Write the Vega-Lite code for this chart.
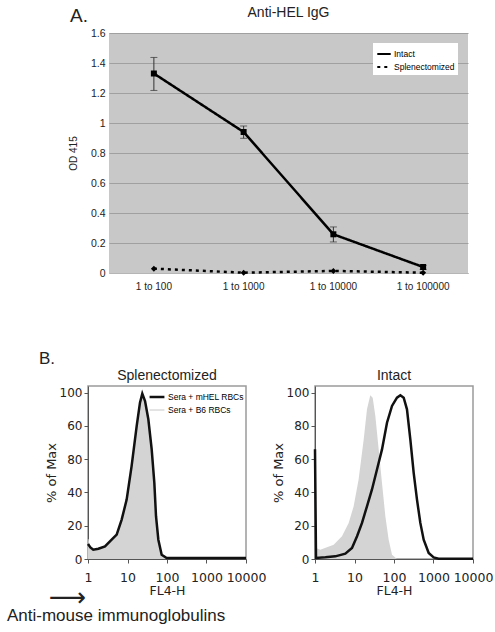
{
  "$schema": "https://vega.github.io/schema/vega-lite/v6.json",
  "background": "white",
  "padding": {"left": 6, "top": 6, "right": 0, "bottom": 0},
  "config": {
    "view": {"stroke": null},
    "axis": {"labelColor": "#222", "titleColor": "#222", "titleFontWeight": "normal", "labelOverlap": false},
    "title": {"fontWeight": "normal", "color": "#222"}
  },
  "resolve": {
    "scale": {"strokeDash": "independent", "color": "independent", "strokeWidth": "independent"},
    "legend": {"strokeDash": "independent", "color": "independent", "strokeWidth": "independent"}
  },
  "datasets": {
    "elisa": [
      {"dil": "1 to 100", "group": "Intact", "od": 1.33, "lo": 1.217, "hi": 1.437},
      {"dil": "1 to 1000", "group": "Intact", "od": 0.94, "lo": 0.898, "hi": 0.98},
      {"dil": "1 to 10000", "group": "Intact", "od": 0.258, "lo": 0.207, "hi": 0.307},
      {"dil": "1 to 100000", "group": "Intact", "od": 0.04, "lo": 0.024, "hi": 0.051},
      {"dil": "1 to 100", "group": "Splenectomized", "od": 0.029},
      {"dil": "1 to 1000", "group": "Splenectomized", "od": 0.002},
      {"dil": "1 to 10000", "group": "Splenectomized", "od": 0.014},
      {"dil": "1 to 100000", "group": "Splenectomized", "od": 0.002}
    ],
    "hist": [
      {"panel": "Splenectomized", "sample": "Sera +  B6 RBCs", "fl": 1, "pct": 12},
      {"panel": "Splenectomized", "sample": "Sera +  B6 RBCs", "fl": 1.1, "pct": 6},
      {"panel": "Splenectomized", "sample": "Sera +  B6 RBCs", "fl": 1.36, "pct": 5},
      {"panel": "Splenectomized", "sample": "Sera +  B6 RBCs", "fl": 1.83, "pct": 5.6},
      {"panel": "Splenectomized", "sample": "Sera +  B6 RBCs", "fl": 2.69, "pct": 7},
      {"panel": "Splenectomized", "sample": "Sera +  B6 RBCs", "fl": 3.97, "pct": 10.5},
      {"panel": "Splenectomized", "sample": "Sera +  B6 RBCs", "fl": 5.32, "pct": 14},
      {"panel": "Splenectomized", "sample": "Sera +  B6 RBCs", "fl": 7.12, "pct": 22.5},
      {"panel": "Splenectomized", "sample": "Sera +  B6 RBCs", "fl": 9.52, "pct": 34.5},
      {"panel": "Splenectomized", "sample": "Sera +  B6 RBCs", "fl": 12.7, "pct": 54},
      {"panel": "Splenectomized", "sample": "Sera +  B6 RBCs", "fl": 17.1, "pct": 78.5},
      {"panel": "Splenectomized", "sample": "Sera +  B6 RBCs", "fl": 20.7, "pct": 93},
      {"panel": "Splenectomized", "sample": "Sera +  B6 RBCs", "fl": 23.7, "pct": 98.5},
      {"panel": "Splenectomized", "sample": "Sera +  B6 RBCs", "fl": 27.8, "pct": 94},
      {"panel": "Splenectomized", "sample": "Sera +  B6 RBCs", "fl": 33.7, "pct": 82},
      {"panel": "Splenectomized", "sample": "Sera +  B6 RBCs", "fl": 40.9, "pct": 63},
      {"panel": "Splenectomized", "sample": "Sera +  B6 RBCs", "fl": 47.8, "pct": 43},
      {"panel": "Splenectomized", "sample": "Sera +  B6 RBCs", "fl": 52.7, "pct": 24},
      {"panel": "Splenectomized", "sample": "Sera +  B6 RBCs", "fl": 60.4, "pct": 10},
      {"panel": "Splenectomized", "sample": "Sera +  B6 RBCs", "fl": 73.3, "pct": 2},
      {"panel": "Splenectomized", "sample": "Sera +  B6 RBCs", "fl": 98, "pct": 0.3},
      {"panel": "Splenectomized", "sample": "Sera +  B6 RBCs", "fl": 10000, "pct": 0.3},
      {"panel": "Splenectomized", "sample": "Sera + mHEL RBCs", "fl": 1, "pct": 9},
      {"panel": "Splenectomized", "sample": "Sera + mHEL RBCs", "fl": 1.15, "pct": 7},
      {"panel": "Splenectomized", "sample": "Sera + mHEL RBCs", "fl": 1.36, "pct": 5.6},
      {"panel": "Splenectomized", "sample": "Sera + mHEL RBCs", "fl": 1.83, "pct": 6.2},
      {"panel": "Splenectomized", "sample": "Sera + mHEL RBCs", "fl": 2.69, "pct": 7.6},
      {"panel": "Splenectomized", "sample": "Sera + mHEL RBCs", "fl": 3.97, "pct": 11.6},
      {"panel": "Splenectomized", "sample": "Sera + mHEL RBCs", "fl": 5.32, "pct": 14.7},
      {"panel": "Splenectomized", "sample": "Sera + mHEL RBCs", "fl": 7.12, "pct": 23.7},
      {"panel": "Splenectomized", "sample": "Sera + mHEL RBCs", "fl": 9.52, "pct": 35.7},
      {"panel": "Splenectomized", "sample": "Sera + mHEL RBCs", "fl": 12.7, "pct": 55.8},
      {"panel": "Splenectomized", "sample": "Sera + mHEL RBCs", "fl": 17.1, "pct": 80},
      {"panel": "Splenectomized", "sample": "Sera + mHEL RBCs", "fl": 20.7, "pct": 94},
      {"panel": "Splenectomized", "sample": "Sera + mHEL RBCs", "fl": 23.7, "pct": 99.4},
      {"panel": "Splenectomized", "sample": "Sera + mHEL RBCs", "fl": 27.8, "pct": 95},
      {"panel": "Splenectomized", "sample": "Sera + mHEL RBCs", "fl": 33.7, "pct": 84},
      {"panel": "Splenectomized", "sample": "Sera + mHEL RBCs", "fl": 40.9, "pct": 66},
      {"panel": "Splenectomized", "sample": "Sera + mHEL RBCs", "fl": 47.8, "pct": 45.8},
      {"panel": "Splenectomized", "sample": "Sera + mHEL RBCs", "fl": 52.7, "pct": 25.7},
      {"panel": "Splenectomized", "sample": "Sera + mHEL RBCs", "fl": 60.4, "pct": 11.6},
      {"panel": "Splenectomized", "sample": "Sera + mHEL RBCs", "fl": 73.3, "pct": 2.6},
      {"panel": "Splenectomized", "sample": "Sera + mHEL RBCs", "fl": 98, "pct": 0.6},
      {"panel": "Splenectomized", "sample": "Sera + mHEL RBCs", "fl": 286, "pct": 0.6},
      {"panel": "Splenectomized", "sample": "Sera + mHEL RBCs", "fl": 10000, "pct": 0.6},
      {"panel": "Intact", "sample": "Sera +  B6 RBCs", "fl": 1, "pct": 9.6},
      {"panel": "Intact", "sample": "Sera +  B6 RBCs", "fl": 1.1, "pct": 6.5},
      {"panel": "Intact", "sample": "Sera +  B6 RBCs", "fl": 1.36, "pct": 5.6},
      {"panel": "Intact", "sample": "Sera +  B6 RBCs", "fl": 2.01, "pct": 7},
      {"panel": "Intact", "sample": "Sera +  B6 RBCs", "fl": 2.97, "pct": 8.6},
      {"panel": "Intact", "sample": "Sera +  B6 RBCs", "fl": 4.82, "pct": 13.7},
      {"panel": "Intact", "sample": "Sera +  B6 RBCs", "fl": 7.12, "pct": 21.7},
      {"panel": "Intact", "sample": "Sera +  B6 RBCs", "fl": 9.52, "pct": 31.7},
      {"panel": "Intact", "sample": "Sera +  B6 RBCs", "fl": 12.7, "pct": 47.8},
      {"panel": "Intact", "sample": "Sera +  B6 RBCs", "fl": 17.1, "pct": 71.9},
      {"panel": "Intact", "sample": "Sera +  B6 RBCs", "fl": 20.7, "pct": 90},
      {"panel": "Intact", "sample": "Sera +  B6 RBCs", "fl": 25.1, "pct": 98.4},
      {"panel": "Intact", "sample": "Sera +  B6 RBCs", "fl": 28.9, "pct": 97},
      {"panel": "Intact", "sample": "Sera +  B6 RBCs", "fl": 33.7, "pct": 86},
      {"panel": "Intact", "sample": "Sera +  B6 RBCs", "fl": 40.9, "pct": 66},
      {"panel": "Intact", "sample": "Sera +  B6 RBCs", "fl": 49.6, "pct": 45.8},
      {"panel": "Intact", "sample": "Sera +  B6 RBCs", "fl": 60.4, "pct": 25.7},
      {"panel": "Intact", "sample": "Sera +  B6 RBCs", "fl": 73.3, "pct": 11.6},
      {"panel": "Intact", "sample": "Sera +  B6 RBCs", "fl": 89, "pct": 2.6},
      {"panel": "Intact", "sample": "Sera +  B6 RBCs", "fl": 119, "pct": 0},
      {"panel": "Intact", "sample": "Sera +  B6 RBCs", "fl": 10000, "pct": 0},
      {"panel": "Intact", "sample": "Sera + mHEL RBCs", "fl": 1, "pct": 66},
      {"panel": "Intact", "sample": "Sera + mHEL RBCs", "fl": 1.06, "pct": 0.6},
      {"panel": "Intact", "sample": "Sera + mHEL RBCs", "fl": 1.83, "pct": 1},
      {"panel": "Intact", "sample": "Sera + mHEL RBCs", "fl": 3.27, "pct": 1.6},
      {"panel": "Intact", "sample": "Sera + mHEL RBCs", "fl": 5.86, "pct": 3.2},
      {"panel": "Intact", "sample": "Sera + mHEL RBCs", "fl": 8.64, "pct": 6.6},
      {"panel": "Intact", "sample": "Sera + mHEL RBCs", "fl": 11.6, "pct": 13.7},
      {"panel": "Intact", "sample": "Sera + mHEL RBCs", "fl": 15.5, "pct": 21.7},
      {"panel": "Intact", "sample": "Sera + mHEL RBCs", "fl": 20.7, "pct": 31.7},
      {"panel": "Intact", "sample": "Sera + mHEL RBCs", "fl": 27.7, "pct": 41.8},
      {"panel": "Intact", "sample": "Sera + mHEL RBCs", "fl": 37.1, "pct": 53.8},
      {"panel": "Intact", "sample": "Sera + mHEL RBCs", "fl": 49.7, "pct": 65.9},
      {"panel": "Intact", "sample": "Sera + mHEL RBCs", "fl": 66.5, "pct": 81.9},
      {"panel": "Intact", "sample": "Sera + mHEL RBCs", "fl": 89, "pct": 92},
      {"panel": "Intact", "sample": "Sera + mHEL RBCs", "fl": 119, "pct": 97},
      {"panel": "Intact", "sample": "Sera + mHEL RBCs", "fl": 145, "pct": 98.4},
      {"panel": "Intact", "sample": "Sera + mHEL RBCs", "fl": 176, "pct": 97},
      {"panel": "Intact", "sample": "Sera + mHEL RBCs", "fl": 213, "pct": 90},
      {"panel": "Intact", "sample": "Sera + mHEL RBCs", "fl": 259, "pct": 71.9},
      {"panel": "Intact", "sample": "Sera + mHEL RBCs", "fl": 315, "pct": 51.8},
      {"panel": "Intact", "sample": "Sera + mHEL RBCs", "fl": 382, "pct": 35.7},
      {"panel": "Intact", "sample": "Sera + mHEL RBCs", "fl": 464, "pct": 21.7},
      {"panel": "Intact", "sample": "Sera + mHEL RBCs", "fl": 564, "pct": 11.6},
      {"panel": "Intact", "sample": "Sera + mHEL RBCs", "fl": 755, "pct": 3.6},
      {"panel": "Intact", "sample": "Sera + mHEL RBCs", "fl": 1010, "pct": 1},
      {"panel": "Intact", "sample": "Sera + mHEL RBCs", "fl": 1352, "pct": 0.2},
      {"panel": "Intact", "sample": "Sera + mHEL RBCs", "fl": 10000, "pct": 0.2}
    ]
  },
  "spacing": 59,
  "vconcat": [
    {
      "spacing": -24,
      "resolve": {
        "scale": {"strokeDash": "independent"},
        "legend": {"strokeDash": "independent"}
      },
      "hconcat": [
        {
          "width": 1, "height": 1,
          "title": {"text": "A.", "anchor": "start", "frame": "group", "dx": -18, "offset": 5, "fontSize": 19, "font": "Liberation Sans", "fontWeight": "normal"},
          "data": {"values": [{"a": 0}]},
          "mark": {"type": "point", "opacity": 0},
          "encoding": {}
        },
        {
          "width": 359, "height": 240,
          "view": {"fill": "#c8c8c8", "stroke": null},
          "title": {"text": "Anti-HEL IgG", "font": "Liberation Sans", "fontSize": 14, "offset": 8, "anchor": "middle", "fontWeight": "normal"},
          "data": {"name": "elisa"},
          "layer": [
            {
              "mark": {"type": "line", "color": "black", "strokeWidth": 2.5},
              "encoding": {
                "x": {"field": "dil", "type": "nominal", "sort": null, "axis": {"title": null, "labelAngle": 0, "ticks": false, "domain": true, "domainColor": "#b5b5b5", "labelFont": "Liberation Sans", "labelFontSize": 10, "labelPadding": 8}},
                "y": {"field": "od", "type": "quantitative", "scale": {"domain": [0, 1.6], "nice": false},
                      "axis": {"title": "OD 415", "values": [0, 0.2, 0.4, 0.6, 0.8, 1, 1.2, 1.4, 1.6], "tickCount": 20, "format": ".1~f", "grid": true, "gridColor": "#a0a0a0", "domain": false, "ticks": false, "labelFont": "Liberation Sans", "labelFontSize": 10.5, "labelPadding": 4, "titleFont": "Liberation Sans", "titleFontSize": 10, "titlePadding": 12}},
                "strokeDash": {"field": "group", "type": "nominal",
                  "scale": {"domain": ["Intact", "Splenectomized"], "range": [[1, 0], [3, 4]]},
                  "legend": {"title": null, "orient": "top-right", "offset": 10, "fillColor": "white", "padding": 3, "symbolType": "stroke", "symbolStrokeColor": "black", "symbolStrokeWidth": 2, "symbolSize": 180, "labelFont": "Liberation Sans", "labelFontSize": 8.5, "rowPadding": 0, "labelOffset": 2}}
              }
            },
            {
              "transform": [{"filter": "datum.group == 'Intact'"}],
              "mark": {"type": "rule", "color": "#333", "strokeWidth": 1},
              "encoding": {
                "x": {"field": "dil", "type": "nominal", "sort": null},
                "y": {"field": "lo", "type": "quantitative", "title": "OD 415"},
                "y2": {"field": "hi"}
              }
            },
            {
              "transform": [{"filter": "datum.group == 'Intact'"}],
              "mark": {"type": "tick", "color": "#333", "size": 7, "thickness": 1},
              "encoding": {
                "x": {"field": "dil", "type": "nominal", "sort": null},
                "y": {"field": "lo", "type": "quantitative", "title": "OD 415"}
              }
            },
            {
              "transform": [{"filter": "datum.group == 'Intact'"}],
              "mark": {"type": "tick", "color": "#333", "size": 7, "thickness": 1},
              "encoding": {
                "x": {"field": "dil", "type": "nominal", "sort": null},
                "y": {"field": "hi", "type": "quantitative", "title": "OD 415"}
              }
            },
            {
              "transform": [{"filter": "datum.group == 'Intact'"}],
              "mark": {"type": "point", "shape": "square", "filled": true, "color": "black", "opacity": 1, "size": 36},
              "encoding": {
                "x": {"field": "dil", "type": "nominal", "sort": null},
                "y": {"field": "od", "type": "quantitative", "title": "OD 415"}
              }
            },
            {
              "transform": [{"filter": "datum.group == 'Splenectomized'"}],
              "mark": {"type": "point", "shape": "diamond", "filled": true, "color": "black", "opacity": 1, "size": 36},
              "encoding": {
                "x": {"field": "dil", "type": "nominal", "sort": null},
                "y": {"field": "od", "type": "quantitative", "title": "OD 415"}
              }
            }
          ]
        }
      ]
    },
    {
      "spacing": 4,
      "title": {"text": "B.", "anchor": "start", "frame": "group", "dx": -49, "offset": 0, "fontSize": 17, "font": "Liberation Sans", "fontWeight": "normal"},
      "resolve": {
        "scale": {"color": "independent", "strokeWidth": "independent"},
        "legend": {"color": "independent", "strokeWidth": "independent"}
      },
      "hconcat": [
        {
          "width": 158, "height": 173,
          "view": {"stroke": "#9a9a9a", "strokeWidth": 1.5},
          "title": {"text": "Splenectomized", "font": "Liberation Sans", "fontSize": 14, "offset": 3, "fontWeight": "normal"},
          "layer": [
            {
              "data": {"name": "hist"},
              "transform": [{"filter": "datum.panel == 'Splenectomized' && datum.sample == 'Sera +  B6 RBCs'"}],
              "mark": {"type": "area", "color": "#d4d4d4"},
              "encoding": {
                "x": {"field": "fl", "type": "quantitative", "scale": {"type": "log", "domain": [1, 10000], "nice": false},
                      "axis": {"title": "FL4-H", "values": [1, 10, 100, 1000, 10000], "tickCount": 20, "labelFlush": false, "format": "d", "grid": false, "tickSize": 4, "domainColor": "#555", "tickColor": "#555", "labelFont": "DejaVu Sans", "labelFontSize": 12.5, "labelPadding": 8, "titleFont": "DejaVu Sans", "titleFontSize": 12.5, "titlePadding": 1}},
                "y": {"field": "pct", "type": "quantitative", "scale": {"domain": [0, 104], "nice": false},
                      "axis": {"title": "% of Max", "values": [0, 20, 40, 60, 80, 100], "tickCount": 20, "labelExpr": "datum.value == 80 ? '60' : datum.value == 60 ? '80' : datum.label", "grid": false, "tickSize": 4, "domainColor": "#555", "tickColor": "#555", "labelFont": "DejaVu Sans", "labelFontSize": 12, "labelPadding": 2, "titleFont": "DejaVu Sans", "titleFontSize": 13, "titlePadding": 1}}
              }
            },
            {
              "data": {"name": "hist"},
              "transform": [{"filter": "datum.panel == 'Splenectomized'"}],
              "mark": {"type": "line"},
              "encoding": {
                "x": {"field": "fl", "type": "quantitative", "title": "FL4-H"},
                "y": {"field": "pct", "type": "quantitative", "title": "% of Max"},
                "color": {"field": "sample", "type": "nominal",
                  "scale": {"domain": ["Sera + mHEL RBCs", "Sera +  B6 RBCs"], "range": ["#111111", "#c8c8c8"]},
                  "legend": {"title": null, "orient": "top-right", "offset": 2, "padding": 0, "symbolType": "stroke", "symbolSize": 220, "symbolStrokeWidth": 2.5, "labelFont": "Liberation Sans", "labelFontSize": 8.5, "rowPadding": 0, "labelOffset": 2}},
                "strokeWidth": {"field": "sample", "type": "nominal", "scale": {"domain": ["Sera + mHEL RBCs", "Sera +  B6 RBCs"], "range": [2.5, 1]}, "legend": null}
              }
            },
            {
              "data": {"values": [{"lbl": "⟶"}]},
              "mark": {"type": "text", "align": "right", "baseline": "middle", "dx": -2, "dy": 39, "fontSize": 26, "font": "DejaVu Sans", "color": "#222"},
              "encoding": {"x": {"datum": 1}, "y": {"datum": 0}, "text": {"field": "lbl"}}
            },
            {
              "data": {"values": [{"lbl": "Anti-mouse immunoglobulins"}]},
              "mark": {"type": "text", "align": "left", "baseline": "alphabetic", "dx": -81, "dy": 62, "fontSize": 17, "font": "Liberation Sans", "color": "#222"},
              "encoding": {"x": {"datum": 1}, "y": {"datum": 0}, "text": {"field": "lbl"}}
            }
          ]
        },
        {
          "width": 158, "height": 173,
          "view": {"stroke": "#9a9a9a", "strokeWidth": 1.5},
          "title": {"text": "Intact", "font": "Liberation Sans", "fontSize": 14, "offset": 3, "fontWeight": "normal"},
          "data": {"name": "hist"},
          "layer": [
            {
              "transform": [{"filter": "datum.panel == 'Intact' && datum.sample == 'Sera +  B6 RBCs'"}],
              "mark": {"type": "area", "color": "#d4d4d4"},
              "encoding": {
                "x": {"field": "fl", "type": "quantitative", "scale": {"type": "log", "domain": [1, 10000], "nice": false},
                      "axis": {"title": "FL4-H", "values": [1, 10, 100, 1000, 10000], "tickCount": 20, "labelFlush": false, "format": "d", "grid": false, "tickSize": 4, "domainColor": "#555", "tickColor": "#555", "labelFont": "DejaVu Sans", "labelFontSize": 12.5, "labelPadding": 8, "titleFont": "DejaVu Sans", "titleFontSize": 12.5, "titlePadding": 1}},
                "y": {"field": "pct", "type": "quantitative", "scale": {"domain": [0, 104], "nice": false},
                      "axis": {"title": "% of Max", "values": [0, 20, 40, 60, 80, 100], "tickCount": 20, "grid": false, "tickSize": 4, "domainColor": "#555", "tickColor": "#555", "labelFont": "DejaVu Sans", "labelFontSize": 12, "labelPadding": 2, "titleFont": "DejaVu Sans", "titleFontSize": 13, "titlePadding": 1}}
              }
            },
            {
              "transform": [{"filter": "datum.panel == 'Intact' && datum.sample == 'Sera + mHEL RBCs'"}],
              "mark": {"type": "line", "color": "#111111", "strokeWidth": 2.5},
              "encoding": {
                "x": {"field": "fl", "type": "quantitative", "title": "FL4-H"},
                "y": {"field": "pct", "type": "quantitative", "title": "% of Max"}
              }
            }
          ]
        }
      ]
    }
  ]
}
